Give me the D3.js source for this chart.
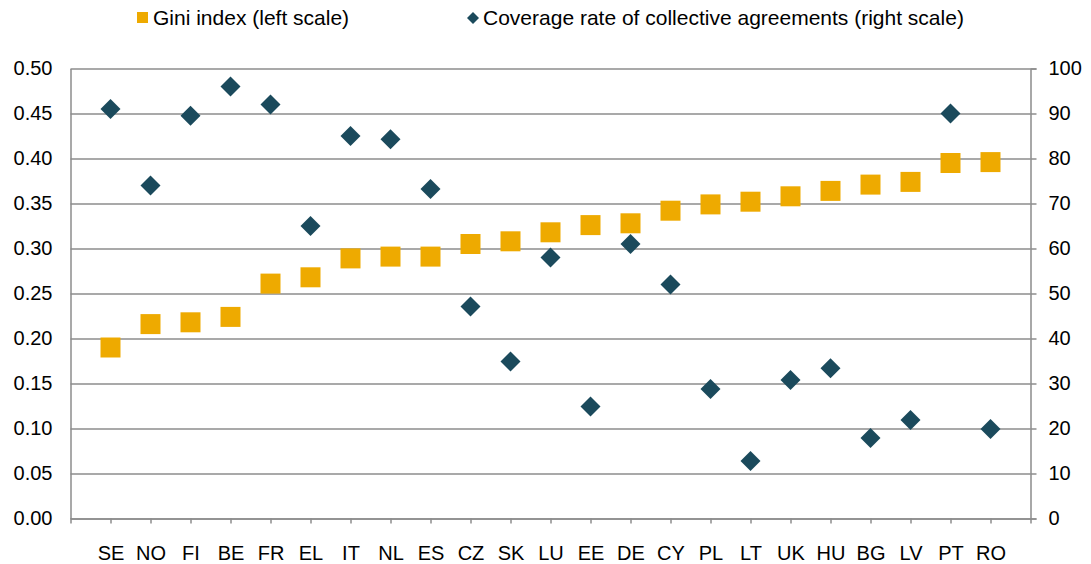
<!DOCTYPE html>
<html>
<head>
<meta charset="utf-8">
<script src="https://cdn.jsdelivr.net/npm/d3@7"></script>
<style>
  html, body { margin: 0; padding: 0; background: #fff; }
  svg { display: block; font-family: "Liberation Sans", Arial, sans-serif; }
</style>
</head>
<body>
<svg id="chart" width="1091" height="564"></svg>
<script>
const categories = ["SE","NO","FI","BE","FR","EL","IT","NL","ES","CZ","SK","LU","EE","DE","CY","PL","LT","UK","HU","BG","LV","PT","RO"];
const giniIndex = [0.190,0.216,0.218,0.224,0.261,0.268,0.289,0.291,0.291,0.305,0.308,0.318,0.326,0.328,0.342,0.349,0.352,0.358,0.364,0.371,0.374,0.395,0.396];
const coverageRate = [91.0,74.0,89.5,96.0,92.0,65.0,85.0,84.3,73.2,47.1,34.9,58.0,24.9,61.0,52.0,28.8,12.8,30.8,33.4,17.9,21.9,90.0,19.9];
const leftTicks = [0,0.05,0.10,0.15,0.20,0.25,0.30,0.35,0.40,0.45,0.50];
const rightTicks = [0,10,20,30,40,50,60,70,80,90,100];
const legendLabels = ["Gini index (left scale)","Coverage rate of collective agreements (right scale)"];

(function () {
const colorGini = "#EEAA00";
const colorCov = "#1B4A5C";
const gridColor = "#8c8c8c";
const fontSize = 20;
const legendFont = 21;

const svg = d3.select("#chart");
const pLeft = 70.5, pRight = 1030.5, pTop = 68.5, pBottom = 518.5;

const x = d3.scalePoint().domain(categories).range([pLeft, pRight]).padding(1);
const yL = d3.scaleLinear().domain([0, 0.5]).range([pBottom, pTop]);
const yR = d3.scaleLinear().domain([0, 100]).range([pBottom, pTop]);

// gridlines
const grid = svg.append("g").attr("transform", `translate(${pLeft},0)`)
  .call(d3.axisLeft(yL).tickValues(leftTicks).tickSize(-(pRight - pLeft)).tickFormat(""));
grid.select(".domain").remove();
grid.selectAll("line").attr("stroke", gridColor).attr("stroke-width", 1.5);

// left axis labels
const gl = svg.append("g").attr("transform", `translate(${pLeft},0)`)
  .call(d3.axisLeft(yL).tickValues(leftTicks).tickSize(0).tickPadding(18).tickFormat(d3.format(".2f")));
gl.select(".domain").attr("stroke", gridColor).attr("stroke-width", 1.5);
gl.selectAll("text").attr("font-size", fontSize).attr("fill", "#000").attr("font-family", "Liberation Sans, Arial, sans-serif");

// right axis
const gr = svg.append("g").attr("transform", `translate(${pRight},0)`)
  .call(d3.axisRight(yR).tickValues(rightTicks).tickSize(6).tickPadding(12).tickFormat(d3.format("d")));
gr.select(".domain").attr("stroke", gridColor).attr("stroke-width", 1.5);
gr.selectAll("line").attr("stroke", gridColor).attr("stroke-width", 1.5);
gr.selectAll("text").attr("font-size", fontSize).attr("fill", "#000").attr("font-family", "Liberation Sans, Arial, sans-serif");

// bottom axis
const gb = svg.append("g").attr("transform", `translate(0,${pBottom})`)
  .call(d3.axisBottom(x).tickSize(5).tickSizeOuter(5).tickPadding(22));
gb.select(".domain").attr("stroke", gridColor).attr("stroke-width", 1.5);
gb.selectAll("line").attr("stroke", gridColor).attr("stroke-width", 1.5);
gb.selectAll("text").attr("font-size", fontSize).attr("fill", "#000").attr("font-family", "Liberation Sans, Arial, sans-serif");

// series: Gini squares
svg.append("g").selectAll("path").data(categories).join("path")
  .attr("d", d3.symbol(d3.symbolSquare, 400))
  .attr("transform", (c, i) => `translate(${x(c)},${yL(giniIndex[i])})`)
  .attr("fill", colorGini);

// series: coverage diamonds
svg.append("g").selectAll("path").data(categories).join("path")
  .attr("d", d3.symbol(d3.symbolSquare, 200))
  .attr("transform", (c, i) => `translate(${x(c)},${yR(coverageRate[i])}) rotate(45)`)
  .attr("fill", colorCov);

// legend
const lg = svg.append("g");
lg.append("rect").attr("x", 137).attr("y", 12).attr("width", 11).attr("height", 11).attr("fill", colorGini);
lg.append("text").attr("x", 153).attr("y", 25).attr("font-size", legendFont).text(legendLabels[0]);
lg.append("path").attr("d", d3.symbol(d3.symbolSquare, 72)).attr("transform", "translate(473,18) rotate(45)").attr("fill", colorCov);
lg.append("text").attr("x", 483).attr("y", 25).attr("font-size", legendFont).text(legendLabels[1]);
})();
</script>
</body>
</html>
